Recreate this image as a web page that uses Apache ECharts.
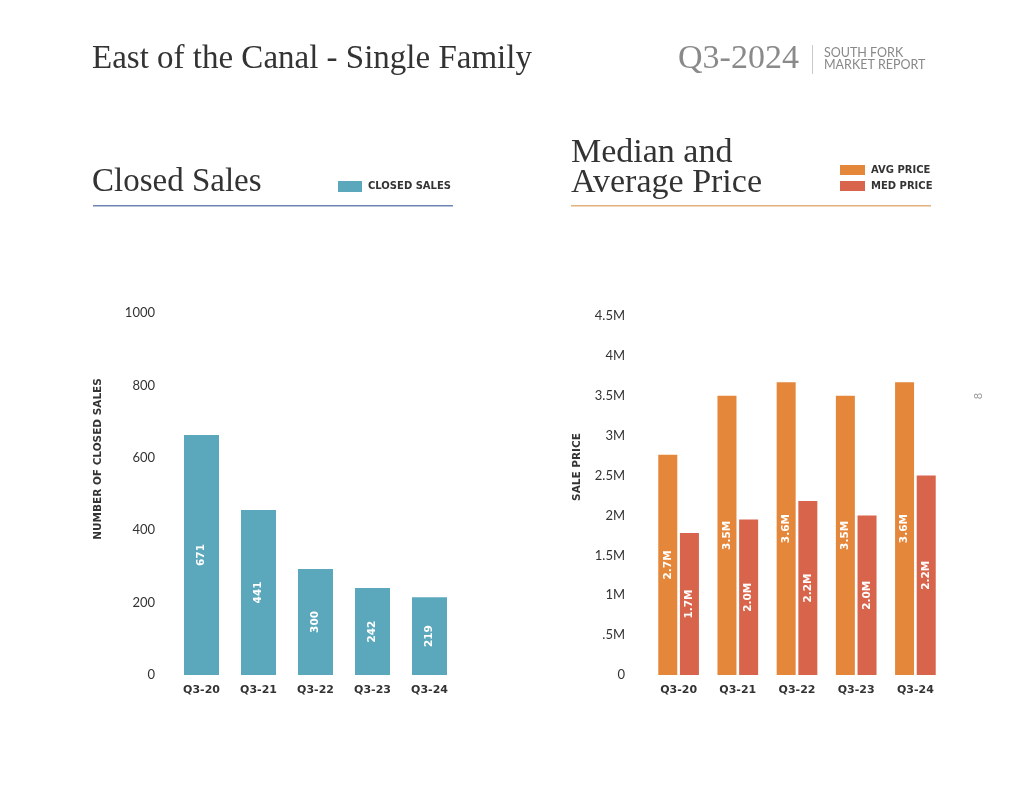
<!DOCTYPE html>
<html>
<head>
<meta charset="utf-8">
<script src="https://cdn.jsdelivr.net/npm/echarts@6/dist/echarts.min.js"></script>
<style>
html,body{margin:0;padding:0;background:#fff;}
#c{width:1024px;height:791px;}
</style>
</head>
<body>
<div id="c"></div>
<script>
var categories = ['Q3-20', 'Q3-21', 'Q3-22', 'Q3-23', 'Q3-24'];
var closedSales = [663, 456, 293, 240, 215];
var closedSalesLabels = ['671', '441', '300', '242', '219'];
var avgPrice = [2.76, 3.50, 3.67, 3.50, 3.67];
var avgPriceLabels = ['2.7M', '3.5M', '3.6M', '3.5M', '3.6M'];
var medPrice = [1.78, 1.95, 2.18, 2.00, 2.50];
var medPriceLabels = ['1.7M', '2.0M', '2.2M', '2.0M', '2.2M'];
var salesTicks = ['0', '200', '400', '600', '800', '1000'];
var priceTicks = ['0', '.5M', '1M', '1.5M', '2M', '2.5M', '3M', '3.5M', '4M', '4.5M'];

var serif = '"Liberation Serif", "DejaVu Serif", serif';
var sans = 'Lato, "Open Sans", sans-serif';
var boldSans = '"DejaVu Sans", "Open Sans", sans-serif';
var teal = '#5ba8bd', orange = '#e5873a', red = '#d8654b';

var chart = echarts.init(document.getElementById('c'));

function barLabel(arr) {
  return {
    show: true, position: 'inside', rotate: 90,
    color: '#fff', fontFamily: boldSans, fontWeight: 'bold', fontSize: 10.5,
    formatter: function (p) { return arr[p.dataIndex]; }
  };
}

var catAxisLabel = { color: '#333', fontFamily: boldSans, fontWeight: 'bold', fontSize: 11, margin: 10 };

chart.setOption({
  animation: false,
  grid: [
    { left: 173, width: 285, top: 313, bottom: 116 },
    { left: 649, width: 296, top: 316, bottom: 116 }
  ],
  xAxis: [
    { type: 'category', gridIndex: 0, data: categories, axisLine: { show: false }, axisTick: { show: false }, axisLabel: catAxisLabel },
    { type: 'category', gridIndex: 1, data: categories, axisLine: { show: false }, axisTick: { show: false }, axisLabel: catAxisLabel }
  ],
  yAxis: [
    { type: 'value', gridIndex: 0, min: 0, max: 1000, interval: 200,
      splitLine: { show: false }, axisLine: { show: false }, axisTick: { show: false },
      axisLabel: { color: '#333', fontFamily: sans, fontSize: 13, margin: 18,
        formatter: function (v) { return salesTicks[Math.round(v / 200)]; } } },
    { type: 'value', gridIndex: 1, min: 0, max: 4.5, interval: 0.5,
      splitLine: { show: false }, axisLine: { show: false }, axisTick: { show: false },
      axisLabel: { color: '#333', fontFamily: sans, fontSize: 13, margin: 24,
        formatter: function (v) { return priceTicks[Math.round(v / 0.5)]; } } }
  ],
  series: [
    { type: 'bar', name: 'CLOSED SALES', xAxisIndex: 0, yAxisIndex: 0, data: closedSales,
      barWidth: 35, itemStyle: { color: teal }, label: barLabel(closedSalesLabels) },
    { type: 'bar', name: 'AVG PRICE', xAxisIndex: 1, yAxisIndex: 1, data: avgPrice,
      barWidth: 19, barGap: '14%', itemStyle: { color: orange }, label: barLabel(avgPriceLabels) },
    { type: 'bar', name: 'MED PRICE', xAxisIndex: 1, yAxisIndex: 1, data: medPrice,
      barWidth: 19, barGap: '14%', itemStyle: { color: red }, label: barLabel(medPriceLabels) }
  ],
  legend: [
    { data: ['CLOSED SALES'], left: 338, top: 181, padding: 0, itemWidth: 24, itemHeight: 11, itemGap: 6,
      icon: 'rect', textStyle: { color: '#333', fontFamily: boldSans, fontWeight: 'bold', fontSize: 10, padding: [0, 0, 0, 1] } },
    { data: ['AVG PRICE', 'MED PRICE'], orient: 'vertical', left: 840, top: 165, padding: 0, itemWidth: 25, itemHeight: 10, itemGap: 6,
      icon: 'rect', textStyle: { color: '#333', fontFamily: boldSans, fontWeight: 'bold', fontSize: 10, padding: [0, 0, 0, 1] } }
  ],
  graphic: [
    { type: 'text', left: 92, top: 43, style: { text: 'East of the Canal - Single Family', font: '33px ' + serif, fill: '#333' } },
    { type: 'text', left: 678, top: 42, style: { text: 'Q3-2024', font: '34px ' + serif, fill: '#8a8a8a' } },
    { type: 'rect', shape: { x: 812, y: 45, width: 1, height: 29 }, style: { fill: '#c8c8c8' } },
    { type: 'text', left: 824, top: 46, style: { text: 'SOUTH FORK\nMARKET REPORT', font: '12.5px ' + sans, fill: '#888', lineHeight: 12.5 } },
    { type: 'text', left: 92, top: 166, style: { text: 'Closed Sales', font: '33px ' + serif, fill: '#333' } },
    { type: 'rect', shape: { x: 93, y: 205, width: 360, height: 1.5 }, style: { fill: '#6f86b2' } },
    { type: 'text', left: 571, top: 136, style: { text: 'Median and\nAverage Price', font: '34px ' + serif, fill: '#333', lineHeight: 30 } },
    { type: 'rect', shape: { x: 571, y: 205, width: 360, height: 1.5 }, style: { fill: '#e4b27c' } },
    { type: 'text', x: 98, y: 459, rotation: Math.PI / 2,
      style: { text: 'NUMBER OF CLOSED SALES', font: 'bold 10.5px ' + boldSans, fill: '#333', align: 'center', verticalAlign: 'middle' } },
    { type: 'text', x: 577, y: 467, rotation: Math.PI / 2,
      style: { text: 'SALE PRICE', font: 'bold 10.5px ' + boldSans, fill: '#333', align: 'center', verticalAlign: 'middle' } },
    { type: 'text', x: 978, y: 396, rotation: Math.PI / 2,
      style: { text: '8', font: '11px ' + sans, fill: '#999', align: 'center', verticalAlign: 'middle' } }
  ]
});
</script>
</body>
</html>
